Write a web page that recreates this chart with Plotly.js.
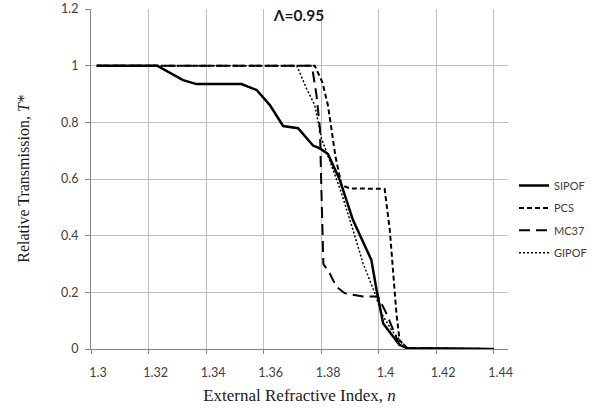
<!DOCTYPE html>
<html>
<head>
<meta charset="utf-8">
<script src="https://cdn.plot.ly/plotly-3.0.1.min.js"></script>
<style>html,body{margin:0;padding:0;background:#fff;}#chart{width:595px;height:408px;}</style>
</head>
<body>
<div id="chart"></div>
<script>
var seriesNames = ["SIPOF", "PCS", "MC37", "GIPOF"];

var sipofX = [1.302, 1.323, 1.332, 1.3367, 1.3523, 1.3576, 1.3622, 1.3668, 1.372, 1.3772, 1.3796, 1.3824, 1.3865, 1.3911, 1.3975, 1.3993, 1.4016, 1.4073, 1.41, 1.44];
var sipofY = [1, 1, 0.949, 0.935, 0.935, 0.914, 0.861, 0.787, 0.779, 0.718, 0.708, 0.688, 0.597, 0.455, 0.314, 0.208, 0.09, 0.014, 0.003, 0];

var pcsX = [1.302, 1.3778, 1.3805, 1.3824, 1.385, 1.3871, 1.39, 1.4021, 1.4039, 1.4062, 1.4073, 1.41, 1.44];
var pcsY = [1, 1, 0.94, 0.86, 0.68, 0.578, 0.567, 0.565, 0.42, 0.126, 0.03, 0.003, 0];

var mc37X = [1.302, 1.3768, 1.3784, 1.3796, 1.3801, 1.3808, 1.383, 1.3853, 1.3882, 1.3946, 1.3998, 1.4027, 1.4056, 1.4073, 1.409, 1.44];
var mc37Y = [1, 1, 0.897, 0.779, 0.567, 0.30, 0.267, 0.22, 0.197, 0.185, 0.185, 0.126, 0.055, 0.014, 0.002, 0];

var gipofX = [1.302, 1.3716, 1.3749, 1.3778, 1.379, 1.3801, 1.3819, 1.3871, 1.3911, 1.3946, 1.3987, 1.401, 1.4045, 1.4073, 1.41, 1.44];
var gipofY = [1, 1, 0.92, 0.861, 0.802, 0.744, 0.696, 0.55, 0.42, 0.302, 0.197, 0.126, 0.067, 0.032, 0.003, 0];

var xTicks = [1.3, 1.32, 1.34, 1.36, 1.38, 1.4, 1.42, 1.44];
var xTickText = ["1.3", "1.32", "1.34", "1.36", "1.38", "1.4", "1.42", "1.44"];
var yTicks = [0, 0.2, 0.4, 0.6, 0.8, 1, 1.2];
var yTickText = ["0", "0.2", "0.4", "0.6", "0.8", "1", "1.2"];

var traces = [
  {x: sipofX, y: sipofY, name: seriesNames[0], legendgroup: "a", mode: "lines", line: {color: "#000", width: 2.5}},
  {x: pcsX, y: pcsY, name: seriesNames[1], legendgroup: "b", mode: "lines", line: {color: "#000", width: 2, dash: "5px,3px"}},
  {x: mc37X, y: mc37Y, name: seriesNames[2], legendgroup: "c", mode: "lines", line: {color: "#000", width: 2, dash: "11px,6px"}},
  {x: gipofX, y: gipofY, name: seriesNames[3], legendgroup: "d", mode: "lines", line: {color: "#000", width: 1.5, dash: "2px,2px"}}
];

var layout = {
  width: 595, height: 408,
  margin: {l: 91, r: 87, t: 9, b: 59, autoexpand: false},
  paper_bgcolor: "#fff", plot_bgcolor: "#fff",
  font: {family: "Lato, 'Open Sans', sans-serif", size: 12, color: "#404040"},
  title: {text: "<b>Λ=0.95</b>", font: {family: "Lato, 'Open Sans', sans-serif", size: 15.5, color: "#1a1a1a"}, x: 299/595, xanchor: "center", y: 1 - 16/408, yanchor: "middle"},
  xaxis: {
    range: [1.3, 1.445], tickvals: xTicks, ticktext: xTickText,
    showgrid: true, gridcolor: "#bfbfbf", gridwidth: 1,
    showline: true, linecolor: "#868686", linewidth: 1,
    ticks: "outside", ticklen: 4, tickcolor: "#868686",
    ticklabelstandoff: 8, ticklabelshift: 7,
    zeroline: false, automargin: false,
    tickfont: {size: 12.5},
    title: {text: "External Refractive Index, <i>n</i>", font: {family: "'Liberation Serif', 'Times New Roman', serif", size: 17, color: "#1a1a1a"}, standoff: 10}
  },
  yaxis: {
    range: [0, 1.2], tickvals: yTicks, ticktext: yTickText,
    showgrid: true, gridcolor: "#bfbfbf", gridwidth: 1,
    showline: true, linecolor: "#868686", linewidth: 1,
    ticks: "outside", ticklen: 5, tickcolor: "#868686",
    ticklabelstandoff: 4,
    zeroline: false, automargin: false,
    tickfont: {size: 12.5},
    title: {text: "Relative Transmission, <i>T*</i>", font: {family: "'Liberation Serif', 'Times New Roman', serif", size: 16, color: "#1a1a1a"}, standoff: 27}
  },
  showlegend: true,
  legend: {x: (514 - 91) / 417, xanchor: "left", y: (349 - 171) / 340, yanchor: "top",
           font: {family: "Lato, 'Open Sans', sans-serif", size: 11, color: "#404040"},
           bgcolor: "rgba(0,0,0,0)", tracegroupgap: 3.4}
};

Plotly.newPlot("chart", traces, layout, {displayModeBar: false, staticPlot: true});
</script>
</body>
</html>
